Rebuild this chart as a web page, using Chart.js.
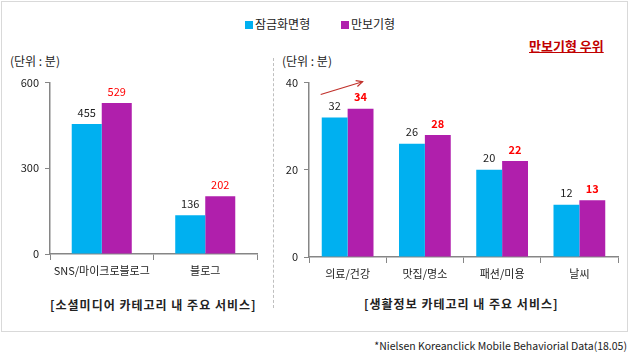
<!DOCTYPE html>
<html>
<head>
<meta charset="utf-8">
<script src="https://cdn.jsdelivr.net/npm/chart.js@4"></script>
<style>
  body { margin: 0; width: 630px; height: 359px; background: #fff; position: relative; overflow: hidden;
         font-family: "Noto Sans CJK KR", "Noto Sans", sans-serif; color: #222; }
  .frame { position: absolute; left: 1px; top: 1px; width: 627px; height: 331px; border: 1px solid #d9d9d9; box-sizing: border-box; }
  .txt { position: absolute; white-space: nowrap; font-size: 11px; line-height: 14px; }
  .sw { display: inline-block; width: 8px; height: 8px; vertical-align: -0px; margin-right: 2px; }
  .divider { position: absolute; left: 273px; top: 58px; height: 250px; border-left: 1px dashed #bfbfbf; }
  .cap { font-weight: bold; font-size: 12px; letter-spacing: 1px; }
  canvas { position: absolute; }
</style>
</head>
<body>
<div class="frame"></div>
<div class="divider"></div>

<div class="txt" style="left:245px; top:17px; font-size:12px;"><span class="sw" style="background:#00b0f0"></span>잠금화면형</div>
<div class="txt" style="left:341px; top:17px; font-size:12px;"><span class="sw" style="background:#b01fac"></span>만보기형</div>
<div class="txt" style="left:529px; top:39px; font-size:13px; font-weight:bold; color:#c00000; text-decoration:underline;">만보기형 우위</div>

<div class="txt" style="left:10px; top:54px; font-size:12px;">(단위 : 분)</div>
<div class="txt" style="left:282px; top:54px; font-size:12px;">(단위 : 분)</div>

<canvas id="chartSocial" width="265" height="220" style="left:0; top:70px;"></canvas>
<canvas id="chartLife" width="360" height="220" style="left:265px; top:70px;"></canvas>

<div class="txt cap" style="left:50px; top:298px;">[소셜미디어 카테고리 내 주요 서비스]</div>
<div class="txt cap" style="left:364px; top:297px;">[생활정보 카테고리 내 주요 서비스]</div>
<div class="txt" style="right:3px; top:339px; font-size:10.5px;">*Nielsen Koreanclick Mobile Behaviorial Data(18.05)</div>

<script>
// 데이터
const socialLabels = ['SNS/마이크로블로그', '블로그'];
const socialLock = [455, 136];
const socialPedo = [529, 202];
const socialTicks = [0, 300, 600];

const lifeLabels = ['의료/건강', '맛집/명소', '패션/미용', '날씨'];
const lifeLock = [32, 26, 20, 12];
const lifePedo = [34, 28, 22, 13];
const lifeTicks = [0, 20, 40];

const BLUE = '#00b0f0';
const PURPLE = '#b01fac';
const AXIS = '#868686';
const FONT = '"Noto Sans CJK KR", "Noto Sans", sans-serif';

// 막대 위 값 표시
const valueLabels = {
  id: 'valueLabels',
  afterDatasetsDraw(chart, args, opts) {
    const ctx = chart.ctx;
    ctx.save();
    ctx.textAlign = 'center';
    ctx.textBaseline = 'bottom';
    chart.data.datasets.forEach((ds, i) => {
      chart.getDatasetMeta(i).data.forEach((bar, j) => {
        if (i === 1) {
          ctx.fillStyle = '#ff0000';
          ctx.font = (opts.boldRed ? 'bold ' : '') + '11px ' + FONT;
        } else {
          ctx.fillStyle = '#222';
          ctx.font = '11px ' + FONT;
        }
        ctx.fillText(ds.data[j], bar.x, bar.y - 6);
      });
    });
    // 화살표 (첫 카테고리)
    if (opts.arrow) {
      const a = chart.getDatasetMeta(0).data[0];
      const b = chart.getDatasetMeta(1).data[0];
      const x1 = a.x - 14, y1 = a.y - 23;
      const x2 = b.x + 2, y2 = b.y - 27;
      ctx.strokeStyle = '#c0302a';
      ctx.lineWidth = 1.2;
      ctx.beginPath();
      ctx.moveTo(x1, y1);
      ctx.lineTo(x2, y2);
      ctx.stroke();
      const ang = Math.atan2(y2 - y1, x2 - x1);
      ctx.beginPath();
      ctx.moveTo(x2 - 7 * Math.cos(ang - 0.45), y2 - 7 * Math.sin(ang - 0.45));
      ctx.lineTo(x2, y2);
      ctx.lineTo(x2 - 7 * Math.cos(ang + 0.45), y2 - 7 * Math.sin(ang + 0.45));
      ctx.stroke();
    }
    ctx.restore();
  }
};

function makeChart(id, labels, lock, pedo, ticks, cfg) {
  return new Chart(document.getElementById(id), {
    type: 'bar',
    data: {
      labels: labels,
      datasets: [
        { label: '잠금화면형', data: lock, backgroundColor: BLUE },
        { label: '만보기형', data: pedo, backgroundColor: PURPLE }
      ]
    },
    options: {
      responsive: false,
      animation: false,
      categoryPercentage: cfg.catPct,
      barPercentage: 1.0,
      layout: { padding: { top: cfg.top, right: cfg.right, left: 0, bottom: 0 } },
      plugins: {
        legend: { display: false },
        tooltip: { enabled: false },
        valueLabels: { boldRed: cfg.boldRed, arrow: cfg.arrow }
      },
      scales: {
        x: {
          grid: { drawOnChartArea: false, drawTicks: true, tickLength: 6, color: AXIS, offset: true },
          border: { color: AXIS, width: 1.5 },
          ticks: { color: '#222', font: { family: FONT, size: 11 }, padding: 4, maxRotation: 0, autoSkip: false },
          afterFit: s => { s.height = cfg.xh; }
        },
        y: {
          min: ticks[0],
          max: ticks[ticks.length - 1],
          afterBuildTicks: s => { s.ticks = ticks.map(v => ({ value: v })); },
          grid: { drawOnChartArea: false, drawTicks: true, tickLength: 5, color: AXIS },
          border: { color: AXIS, width: 1.5 },
          ticks: { color: '#222', font: { family: FONT, size: 11 }, padding: 6 },
          afterFit: s => { s.width = cfg.yw; }
        }
      }
    },
    plugins: [valueLabels]
  });
}

makeChart('chartSocial', socialLabels, socialLock, socialPedo, socialTicks,
  { catPct: 0.58, top: 11, right: 8, xh: 36, yw: 50, boldRed: false, arrow: false });
makeChart('chartLife', lifeLabels, lifeLock, lifePedo, lifeTicks,
  { catPct: 0.67, top: 10, right: 7, xh: 33, yw: 44, boldRed: true, arrow: true });
</script>
</body>
</html>
